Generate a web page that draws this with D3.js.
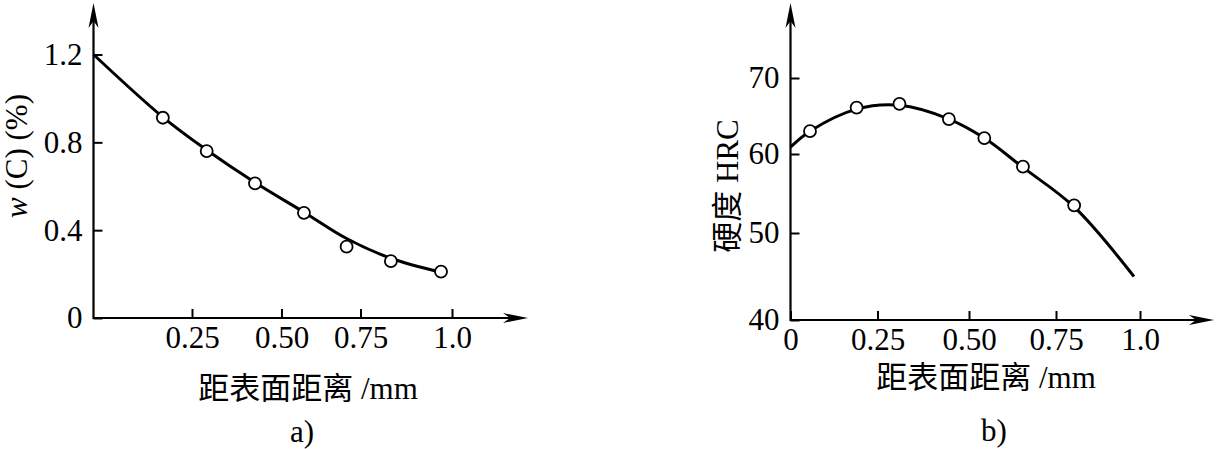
<!DOCTYPE html>
<html>
<head>
<meta charset="utf-8">
<script src="https://cdn.jsdelivr.net/npm/d3@7"></script>
<style>
  body { margin: 0; background: #fff; }
  svg text { font-family: "Liberation Serif", "Noto Sans CJK SC", serif; fill: #000; }
</style>
</head>
<body>
<script>
// panel a) carbon content vs. depth
const carbonTicksX = [0.25, 0.5, 0.75, 1.0];
const carbonTickLabelsX = ["0.25", "0.50", "0.75", "1.0"];
const carbonTicksY = [0, 0.4, 0.8, 1.2];
const carbonTickLabelsY = ["0", "0.4", "0.8", "1.2"];
const carbonDist = [0.176, 0.291, 0.426, 0.571, 0.706, 0.833, 0.970];
const carbonValue = [0.912, 0.760, 0.613, 0.479, 0.325, 0.259, 0.211];
const carbonCurveDist = [0, 0.176, 0.291, 0.426, 0.571, 0.706, 0.833, 0.970];
const carbonCurveValue = [1.2, 0.915, 0.765, 0.617, 0.482, 0.362, 0.272, 0.208];

// panel b) hardness vs. depth
const hardTicksX = [0, 0.25, 0.5, 0.75, 1.0];
const hardTickLabelsX = ["0", "0.25", "0.50", "0.75", "1.0"];
const hardTicksY = [40, 50, 60, 70];
const hardTickLabelsY = ["40", "50", "60", "70"];
const hardDist = [0.056, 0.190, 0.310, 0.445, 0.544, 0.655, 0.804];
const hardValue = [63.0, 66.1, 66.6, 64.6, 62.1, 58.4, 53.5];
const hardCurveDist = [0, 0.056, 0.190, 0.310, 0.445, 0.544, 0.655, 0.804, 0.982];
const hardCurveValue = [60.9, 63.0, 65.9, 66.4, 64.6, 62.1, 58.3, 53.3, 45.0];

const w = 1216;
const h = 449;
const fontSize = 31;

const svg = d3.select("body")
  .append("svg")
  .attr("width", w)
  .attr("height", h);

// the original drawing has slightly uneven tick spacing, so the scales are piecewise
const panels = [
  {
    x: d3.scaleLinear().domain([0, 0.25, 0.5, 0.75, 1]).range([93.5, 192, 281.5, 360.5, 452]),
    y: d3.scaleLinear().domain([0, 1.2]).range([318, 54.5]),
    xTicks: carbonTicksX, xLabels: carbonTickLabelsX,
    yTicks: carbonTicksY, yLabels: carbonTickLabelsY,
    dist: carbonDist, value: carbonValue,
    curveDist: carbonCurveDist, curveValue: carbonCurveValue,
    xEnd: 528, yEnd: 3,
    xTitle: { x: 308, y: 399 }, tag: { text: "a)", x: 302, y: 442 },
    yTitle: { x: 27, y: 156 }, yTitleParts: [["w", "italic"], [" (C) (%)", "normal"]]
  },
  {
    x: d3.scaleLinear().domain([0, 0.25, 0.5, 0.75, 1]).range([790.5, 877.5, 969, 1056, 1140]),
    y: d3.scaleLinear().domain([40, 50, 60, 70]).range([320, 233, 154, 78]),
    xTicks: hardTicksX, xLabels: hardTickLabelsX,
    yTicks: hardTicksY, yLabels: hardTickLabelsY,
    dist: hardDist, value: hardValue,
    curveDist: hardCurveDist, curveValue: hardCurveValue,
    xEnd: 1214, yEnd: 3,
    xTitle: { x: 986, y: 388 }, tag: { text: "b)", x: 994, y: 441 },
    yTitle: { x: 738, y: 186 }, yTitleParts: [["硬度 HRC", "normal"]]
  }
];

panels.forEach(drawPanel);

function drawPanel(p) {
  const x0 = p.x.range()[0];
  const y0 = p.y.range()[0];
  const g = svg.append("g");

  // axis lines with arrow heads
  g.append("line")
    .attr("x1", x0).attr("y1", y0)
    .attr("x2", p.xEnd - 12).attr("y2", y0)
    .attr("stroke", "#000").attr("stroke-width", 2.2);
  g.append("line")
    .attr("x1", x0).attr("y1", y0 + 1)
    .attr("x2", x0).attr("y2", p.yEnd + 12)
    .attr("stroke", "#000").attr("stroke-width", 2.2);
  g.append("path")
    .attr("d", `M${p.xEnd},${y0} L${p.xEnd - 25},${y0 - 5} L${p.xEnd - 18},${y0} L${p.xEnd - 25},${y0 + 5} Z`)
    .attr("fill", "#000");
  g.append("path")
    .attr("d", `M${x0},${p.yEnd} L${x0 - 5},${p.yEnd + 25} L${x0},${p.yEnd + 18} L${x0 + 5},${p.yEnd + 25} Z`)
    .attr("fill", "#000");

  const xAxis = d3.axisBottom(p.x)
    .tickValues(p.xTicks)
    .tickFormat((d, i) => p.xLabels[i])
    .tickSizeInner(-9)
    .tickSizeOuter(0)
    .tickPadding(8);
  g.append("g")
    .attr("transform", "translate(0," + y0 + ")")
    .call(xAxis)
    .call(styleAxis);

  const yAxis = d3.axisLeft(p.y)
    .tickValues(p.yTicks)
    .tickFormat((d, i) => p.yLabels[i])
    .tickSizeInner(-9)
    .tickSizeOuter(0)
    .tickPadding(11);
  g.append("g")
    .attr("transform", "translate(" + x0 + ",0)")
    .call(yAxis)
    .call(styleAxis);

  // fitted curve
  const line = d3.line()
    .x((d, i) => p.x(p.curveDist[i]))
    .y((d, i) => p.y(p.curveValue[i]))
    .curve(d3.curveCatmullRom.alpha(0.5));
  g.append("path")
    .datum(p.curveDist)
    .attr("d", line)
    .attr("fill", "none")
    .attr("stroke", "#000")
    .attr("stroke-width", 3);

  // measured points
  g.selectAll("circle")
    .data(p.dist)
    .enter()
    .append("circle")
    .attr("cx", (d) => p.x(d))
    .attr("cy", (d, i) => p.y(p.value[i]))
    .attr("r", 6)
    .attr("fill", "#fff")
    .attr("stroke", "#000")
    .attr("stroke-width", 1.8);

  g.append("text")
    .attr("x", p.xTitle.x)
    .attr("y", p.xTitle.y)
    .attr("text-anchor", "middle")
    .attr("font-size", fontSize)
    .text("距表面距离 /mm");

  g.append("text")
    .attr("x", p.tag.x)
    .attr("y", p.tag.y)
    .attr("text-anchor", "middle")
    .attr("font-size", fontSize)
    .text(p.tag.text);

  const yt = g.append("text")
    .attr("transform", `translate(${p.yTitle.x},${p.yTitle.y}) rotate(-90)`)
    .attr("text-anchor", "middle")
    .attr("font-size", fontSize);
  p.yTitleParts.forEach((part) => {
    yt.append("tspan").attr("font-style", part[1]).text(part[0]);
  });
}

function styleAxis(sel) {
  sel.select(".domain").remove();
  sel.attr("font-family", null).attr("font-size", fontSize);
  sel.selectAll(".tick line").attr("stroke", "#000").attr("stroke-width", 2);
  sel.selectAll(".tick text").attr("fill", "#000");
}
</script>
</body>
</html>
